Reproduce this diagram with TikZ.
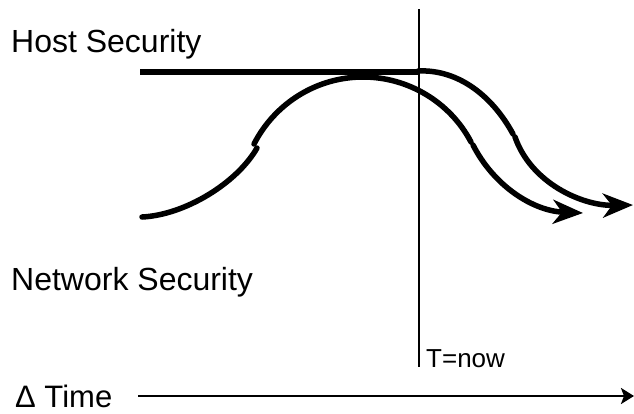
\documentclass[tikz,border=0pt]{standalone}
\usepackage{fontspec}
\setmainfont{Liberation Sans}
\usetikzlibrary{arrows.meta}
\begin{document}
\begin{tikzpicture}[x=1pt,y=-1pt,
  thick curve/.style={line width=5.5pt,line cap=round},
  big arrow/.style={thick curve,-{Stealth[length=30pt,width=24pt,inset=9pt]}},
  label text/.style={anchor=base west,inner sep=0pt,font=\fontsize{32}{32}\selectfont},
  small text/.style={anchor=base west,inner sep=0pt,font=\fontsize{26}{26}\selectfont}]
\useasboundingbox (0,0) rectangle (634,413);
% labels
\node[label text] (host) at (11,52) {Host Security};
\node[label text] (net) at (11,290) {Network Security};
\node[small text] (now) at (426,367) {T=now};
\node[label text,font=\fontsize{31}{31}\selectfont] (dt) at (15,407) {Δ Time};
% time axis
\coordinate (ax0) at (138,396);
\coordinate (ax1) at (634,396);
\draw[line width=2.5pt,-{Stealth[length=13pt,width=16pt,inset=3pt]}] (ax0) -- (ax1);
% now line
\coordinate (v0) at (419,9);
\coordinate (v1) at (419,367);
\draw[line width=1.3pt] (v0) -- (v1);
% host security
\coordinate (h0) at (140,72);
\coordinate (h1) at (419,72);
\draw[line width=5.5pt] (h0) -- (h1);
\coordinate (d0) at (418,71);
\coordinate (d1) at (513,134);
\draw[thick curve] (d0) .. controls (459,69) and (493,97) .. (d1);
\coordinate (e0) at (515,137);
\coordinate (e1) at (633,205);
\draw[big arrow] (e0) .. controls (531,183) and (582,206) .. (e1);
% network security
\coordinate (a0) at (142,217);
\coordinate (a1) at (257,148);
\draw[thick curve] (a0) .. controls (185,215) and (237,183) .. (a1);
\coordinate (b0) at (254,144);
\coordinate (bp) at (363,77);
\coordinate (b1) at (471,142);
\draw[thick curve] (b0) .. controls (275,103) and (317,77) .. (bp)
  .. controls (408,77) and (450,102) .. (b1);
\coordinate (c0) at (473,145);
\coordinate (c1) at (583,213);
\draw[big arrow] (c0) .. controls (494,186) and (533,211) .. (c1);
\end{tikzpicture}
\end{document}
